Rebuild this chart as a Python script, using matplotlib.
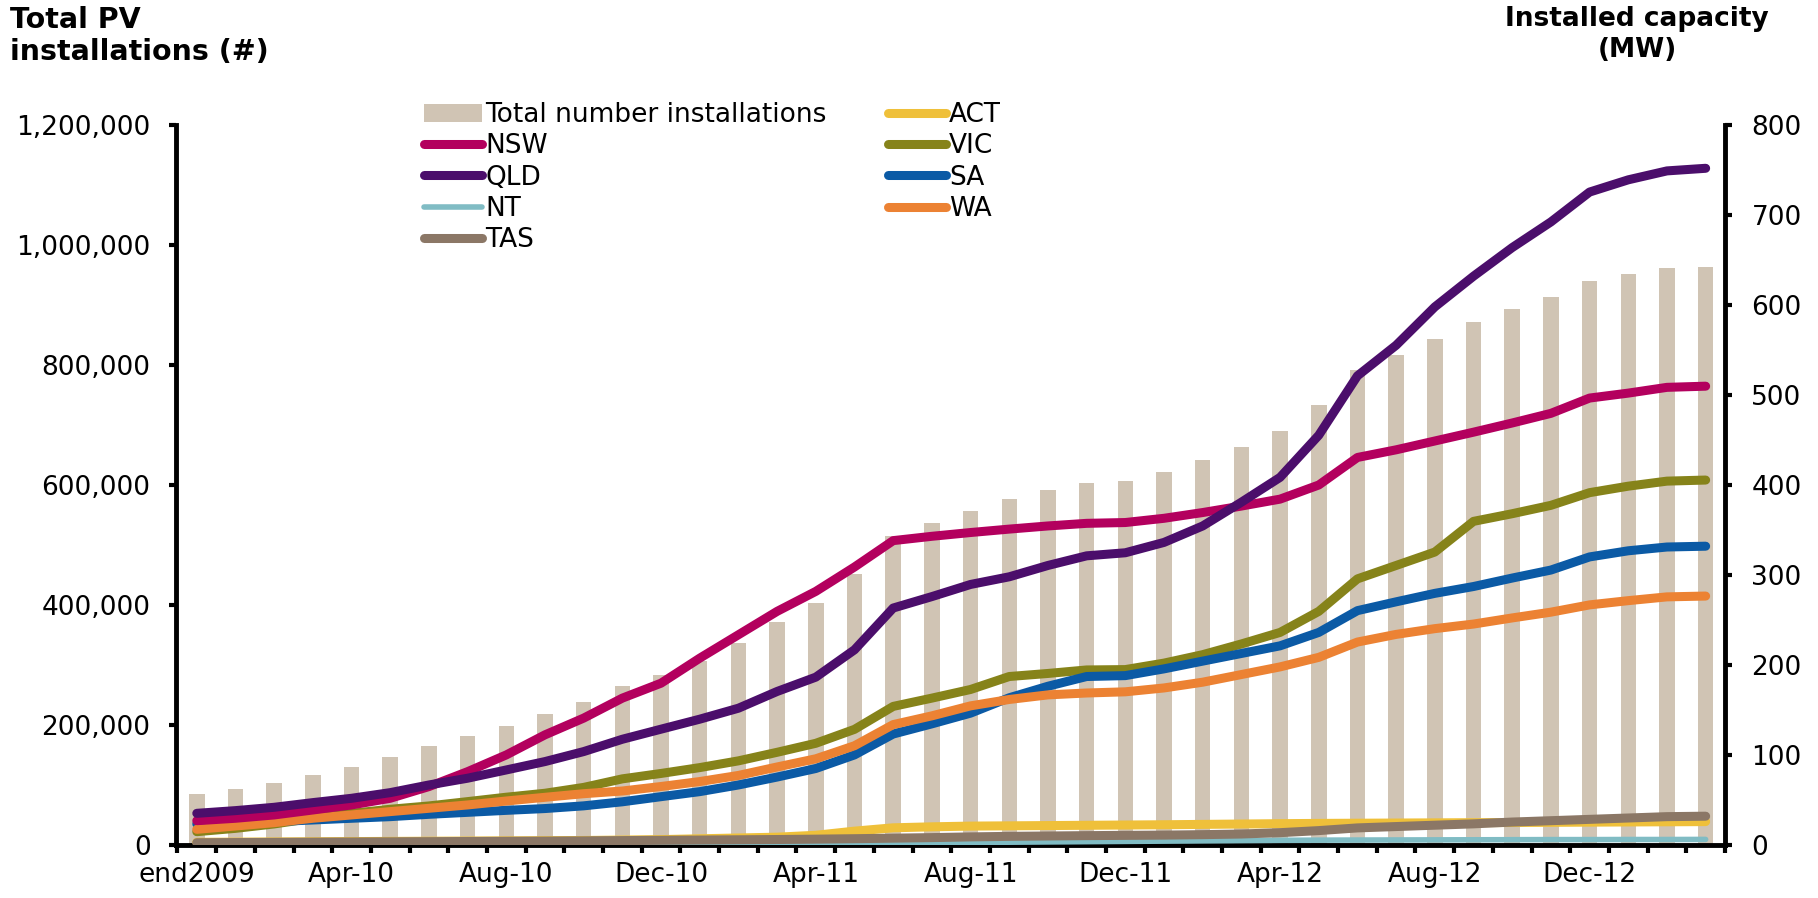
import matplotlib
matplotlib.use("Agg")
import matplotlib.pyplot as plt
from matplotlib.ticker import FuncFormatter, FixedLocator
from matplotlib.patches import Patch
from matplotlib.lines import Line2D
import numpy as np

plt.rcParams['font.family'] = ['DejaVu Sans']

months = ['end2009', 'Jan-10', 'Feb-10', 'Mar-10', 'Apr-10', 'May-10', 'Jun-10', 'Jul-10',
          'Aug-10', 'Sep-10', 'Oct-10', 'Nov-10', 'Dec-10', 'Jan-11', 'Feb-11', 'Mar-11',
          'Apr-11', 'May-11', 'Jun-11', 'Jul-11', 'Aug-11', 'Sep-11', 'Oct-11', 'Nov-11',
          'Dec-11', 'Jan-12', 'Feb-12', 'Mar-12', 'Apr-12', 'May-12', 'Jun-12', 'Jul-12',
          'Aug-12', 'Sep-12', 'Oct-12', 'Nov-12', 'Dec-12', 'Jan-13', 'Feb-13', 'Mar-13']
shown_labels = ['end2009', 'Apr-10', 'Aug-10', 'Dec-10', 'Apr-11', 'Aug-11', 'Dec-11',
                'Apr-12', 'Aug-12', 'Dec-12']

total_installations = [85000, 93000, 103500, 116800, 130000, 146500, 165000, 182000, 199000, 218500,
                       239000, 264500, 283500, 306000, 337000, 371000, 404000, 452000, 515500, 536500,
                       556000, 577000, 591000, 604000, 607000, 621000, 641000, 664000, 690000, 734000,
                       791000, 817000, 843000, 871000, 893000, 913000, 940000, 951000, 961000, 964000]

nsw = [27, 29.7, 33.4, 38.9, 44.5, 51.9, 64.9, 81.5, 100.1, 122.4,
       141, 163.2, 179.8, 207.6, 233.6, 259.6, 281.8, 308.9, 338.2, 343,
       347.2, 351, 354.5, 357.4, 358.3, 363, 369.4, 376.6, 384.3, 400,
       430.6, 439.1, 448.9, 458.7, 468.9, 479.6, 496.6, 502.1, 508.5, 509.8]
qld = [35.2, 38.2, 41.9, 47.1, 51.9, 58.2, 66.7, 74.2, 83.4, 92.7,
       103.8, 117.5, 128.7, 139.8, 152, 170.6, 186.5, 216.9, 263.3, 276,
       289.5, 298, 310.6, 321.3, 324.7, 336.2, 354.5, 380.9, 408.5, 455.3,
       521.3, 555.3, 597.9, 632, 663.8, 692.3, 725.5, 739.1, 749, 751.9]
nt = [0.3, 0.35, 0.4, 0.45, 0.5, 0.55, 0.6, 0.7, 0.8, 0.9,
      1.0, 1.1, 1.2, 1.3, 1.5, 1.7, 1.9, 2.1, 2.3, 2.5,
      2.8, 3.1, 3.4, 3.7, 4.0, 4.3, 4.6, 4.9, 5.2, 5.4,
      5.5, 5.6, 5.7, 5.8, 5.9, 6.0, 6.0, 6.1, 6.1, 6.2]
tas = [2.5, 2.7, 2.9, 3.1, 3.3, 3.5, 3.7, 3.9, 4.1, 4.3,
       4.6, 4.9, 5.2, 5.5, 5.8, 6.1, 6.5, 7.0, 7.6, 8.2,
       9.0, 9.6, 10.0, 10.4, 10.7, 11.0, 11.5, 12.2, 13.7, 16.0,
       19.0, 20.5, 22.0, 23.5, 25.5, 27.0, 28.5, 30.0, 31.5, 32.0]
act = [3.0, 3.2, 3.4, 3.6, 3.8, 4.0, 4.2, 4.4, 4.6, 4.8,
       5.0, 5.5, 6.0, 6.9, 7.8, 8.7, 10.8, 15.4, 19.1, 20.2,
       21.0, 21.3, 21.6, 21.9, 22.2, 22.5, 22.9, 23.3, 23.7, 24.0,
       24.2, 24.4, 24.6, 24.8, 25.0, 25.2, 25.4, 25.6, 25.8, 26.0]
vic = [14.8, 18.5, 23.4, 29.7, 35.2, 39.7, 43.4, 48.2, 53.1, 57.5,
       64, 73.5, 79.5, 86, 93.5, 103, 113, 128.5, 154, 163.2,
       172.8, 187.2, 190.6, 194.5, 194.9, 202.1, 211.5, 223.4, 236.2, 259.6,
       295.7, 310.6, 325.5, 359.6, 368.1, 377.4, 391.5, 398.7, 404.3, 405.5]
sa = [23.4, 24.8, 26, 27.8, 29.7, 31.5, 34.1, 36.3, 38.5, 40.5,
      43.5, 48, 53.7, 59.3, 66.7, 75.5, 85, 100.1, 123.3, 134.6,
      146.5, 163.6, 176.4, 187.2, 188.2, 195.7, 204.3, 212.8, 221.3, 236.2,
      260.4, 270.2, 279.6, 287.2, 296.6, 305.5, 320.1, 326.9, 331.1, 332]
wa = [17.4, 21.1, 24.8, 29.7, 33.4, 37.1, 40.8, 44.5, 48.9, 53,
      57, 60, 65, 70.5, 77.3, 86.7, 95.8, 110.3, 133.8, 143.5,
      154.6, 161.7, 166.8, 168.9, 170.2, 174.5, 180.9, 189.4, 197.9, 208.5,
      225.5, 234, 240.4, 245.5, 252.3, 258.7, 266.8, 271.5, 275.7, 276.6]

colors = {
    'bar': '#D0C4B4', 'NSW': '#B3005E', 'QLD': '#4B0E6B', 'NT': '#80BCC4',
    'TAS': '#8B7766', 'ACT': '#EFC03A', 'VIC': '#86831A', 'SA': '#0B5AA5', 'WA': '#EC8233',
}

W, H = 1818, 898
fig = plt.figure(figsize=(W / 100, H / 100), dpi=100)
left, right, bottom, top = 175.5 / W, 1725 / W, 1 - 845 / H, 1 - 125 / H
ax = fig.add_axes([left, bottom, right - left, top - bottom])
ax2 = ax.twinx()

x = np.arange(len(months))
ax.bar(x, total_installations, width=0.4, color=colors['bar'], zorder=2)
ax.set_ylim(0, 1200000)
ax.set_xlim(-0.55, 39.5)
ax2.set_ylim(0, 800)

lw = 6.5
series_draw = [('ACT', act, lw), ('NT', nt, 4), ('VIC', vic, lw), ('SA', sa, lw), ('WA', wa, lw),
               ('NSW', nsw, lw), ('QLD', qld, lw), ('TAS', tas, lw)]
for name, vals, w in series_draw:
    ax2.plot(x, vals, color=colors[name], lw=w, solid_capstyle='round', solid_joinstyle='round')

# axes styling
spine_w = 3.5
for a in (ax, ax2):
    a.spines['top'].set_visible(False)
    for s in ('left', 'right', 'bottom'):
        a.spines[s].set_linewidth(spine_w)
ax.spines['right'].set_visible(False)
ax2.spines['left'].set_visible(False)
ax2.spines['bottom'].set_visible(False)

tick_fs = 19
ax.set_yticks(np.arange(0, 1200001, 200000))
ax.yaxis.set_major_formatter(FuncFormatter(lambda v, p: f'{int(v):,}'))
ax.tick_params(axis='y', direction='out', length=5, width=3, labelsize=tick_fs, pad=13)
ax2.set_yticks(np.arange(0, 801, 100))
ax2.tick_params(axis='y', direction='out', length=5, width=3, labelsize=tick_fs, pad=14)

# x: ticks at category boundaries, labels every 4 months at centres
ax.xaxis.set_major_locator(FixedLocator(np.arange(-0.5, 40, 1)))
ax.xaxis.set_major_formatter(FuncFormatter(lambda v, p: ''))
label_pos = [months.index(m) for m in shown_labels]
ax.xaxis.set_minor_locator(FixedLocator(label_pos))
ax.set_xticklabels(shown_labels, minor=True)
ax.tick_params(axis='x', which='major', direction='out', length=6, width=3)
ax.tick_params(axis='x', which='minor', length=0, labelsize=tick_fs, pad=12)

# titles
fig.text(10 / W, 1 - 6 / H, 'Total PV\ninstallations (#)', ha='left', va='top',
         fontsize=20.5, fontweight='bold', linespacing=1.2)
fig.text(1637 / W, 1 - 6 / H, 'Installed capacity\n(MW)', ha='center', va='top',
         fontsize=19, fontweight='bold', linespacing=1.25, multialignment='center')

# legends (two columns placed separately)
leg_fs = 19
leg_kw = dict(frameon=False, fontsize=leg_fs, borderpad=0, borderaxespad=0,
              handlelength=2.2, handletextpad=0.12, labelspacing=0.2, loc='upper left')
h1 = [Patch(facecolor=colors['bar'], edgecolor='none'),
      Line2D([], [], color=colors['NSW'], lw=lw, solid_capstyle='round'),
      Line2D([], [], color=colors['QLD'], lw=lw, solid_capstyle='round'),
      Line2D([], [], color=colors['NT'], lw=4, solid_capstyle='round'),
      Line2D([], [], color=colors['TAS'], lw=lw, solid_capstyle='round')]
l1 = ['Total number installations', 'NSW', 'QLD', 'NT', 'TAS']
h2 = [Line2D([], [], color=colors[n], lw=lw, solid_capstyle='round') for n in ('ACT', 'VIC', 'SA', 'WA')]
l2 = ['ACT', 'VIC', 'SA', 'WA']
fig.legend(h1, l1, bbox_to_anchor=(424 / W, 1 - 102 / H), **leg_kw)
fig.legend(h2, l2, bbox_to_anchor=(888 / W, 1 - 102 / H), **leg_kw)

fig.savefig('out.png', dpi=100)
